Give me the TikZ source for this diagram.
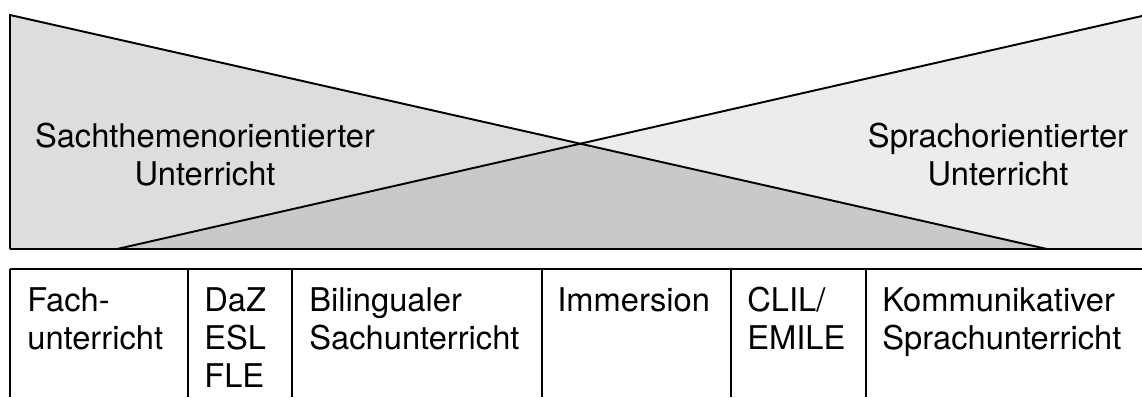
\documentclass[tikz,border=0pt]{standalone}
\usepackage{fontspec}
\setmainfont{TeX Gyre Heros}
\usepackage{xcolor}
\usepackage{tikz}

\definecolor{sachgrey}{RGB}{220,221,222}
\definecolor{mixgrey}{RGB}{200,201,203}
\definecolor{sprachgrey}{RGB}{235,236,236}

\begin{document}
\begin{tikzpicture}[x=0.02cm, y=-0.02cm]
  % Define styles
  \tikzstyle{rule} = [line width=1.1pt, line join=miter]
  \tikzstyle{theme} = [align=center, anchor=north, inner sep=0pt, font=\fontsize{18.6}{21.6}\selectfont]
  \tikzstyle{cell} = [align=left, anchor=north west, inner sep=0pt, font=\fontsize{18.6}{21.6}\selectfont]

  \useasboundingbox (0,0) rectangle (1142,397);

  % Corners
  \coordinate (tl) at (10,15);
  \coordinate (tr) at (1142,16);
  \coordinate (bl) at (10,249);
  \coordinate (br) at (1142,249);
  \coordinate (sl) at (117,249);
  \coordinate (sr) at (1047,249);
  \coordinate (x) at (intersection of tl--sr and sl--tr);

  % Areas
  \fill[sachgrey] (tl) -- (x) -- (sl) -- (bl) -- cycle;
  \fill[mixgrey] (sl) -- (x) -- (sr) -- cycle;
  \fill[sprachgrey] (x) -- (tr) -- (br) -- (sr) -- cycle;
  \draw[rule] (bl) -- (tl) -- (sr);
  \draw[rule] (sl) -- (tr);
  \draw[rule] (bl) -- (br);

  \node[theme] (sach) at (205,123) {Sachthemenorientierter\\Unterricht};
  \node[theme] (sprach) at (998,123) {Sprachorientierter\\Unterricht};

  % Table
  \draw[rule] (10,269) -- (1142,269);
  \draw[rule] (10,269) -- (10,397);
  \draw[rule] (188,269) -- (188,397);
  \draw[rule] (292,269) -- (292,397);
  \draw[rule] (542,269) -- (542,397);
  \draw[rule] (731,269) -- (731,397);
  \draw[rule] (866,269) -- (866,397);

  \node[cell] (fach) at (27,287) {Fach-\\unterricht};
  \node[cell] (daz) at (204,287) {DaZ\\ESL\\FLE};
  \node[cell] (biling) at (309,287) {Bilingualer\\Sachunterricht};
  \node[cell] (immers) at (557,287) {Immersion};
  \node[cell] (clil) at (747,287) {CLIL/\\EMILE};
  \node[cell] (kommu) at (882,287) {Kommunikativer\\Sprachunterricht};
\end{tikzpicture}
\end{document}
